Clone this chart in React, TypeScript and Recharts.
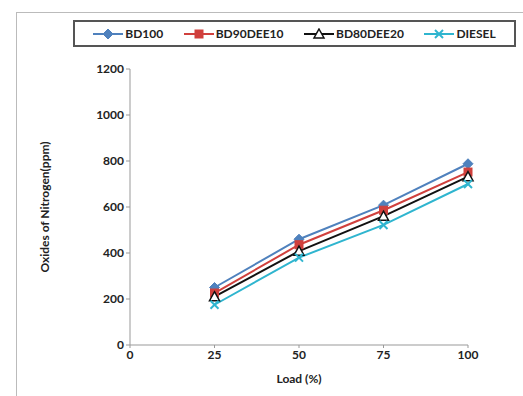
import React from 'react';
import { LineChart, Line, XAxis, YAxis } from 'recharts';

const loads = [25, 50, 75, 100];
const bd100 = [250, 460, 608, 788];
const bd90dee10 = [226, 436, 586, 752];
const bd80dee20 = [210, 408, 560, 732];
const diesel = [175, 380, 522, 700];

const xTicks = [0, 25, 50, 75, 100];
const yTicks = [0, 200, 400, 600, 800, 1000, 1200];

const series = [
  { key: 'bd100', name: 'BD100', color: '#4F81BD', marker: 'diamond', values: bd100 },
  { key: 'bd90', name: 'BD90DEE10', color: '#D0403D', marker: 'square', values: bd90dee10 },
  { key: 'bd80', name: 'BD80DEE20', color: '#111111', marker: 'triangle', values: bd80dee20 },
  { key: 'diesel', name: 'DIESEL', color: '#2FB5CF', marker: 'x', values: diesel },
];

const data = loads.map((load, i) => {
  const row: any = { load };
  series.forEach(s => { row[s.key] = s.values[i]; });
  return row;
});

const font = 'Lato, "Open Sans", sans-serif';
const textStyle = { fill: '#222', fontSize: 12, fontWeight: 700, fontFamily: font };

const Marker = ({ type, color, cx, cy }: any) => {
  if (cx == null || cy == null) return null;
  if (type === 'diamond') {
    return <polygon points={`${cx},${cy - 5} ${cx + 5},${cy} ${cx},${cy + 5} ${cx - 5},${cy}`} fill={color} stroke={color} />;
  }
  if (type === 'square') {
    return <rect x={cx - 4} y={cy - 4} width={8} height={8} fill={color} stroke={color} />;
  }
  if (type === 'triangle') {
    return <polygon points={`${cx},${cy - 5} ${cx + 5},${cy + 4} ${cx - 5},${cy + 4}`} fill="#fff" stroke={color} strokeWidth={1.5} />;
  }
  return (
    <g stroke={color} strokeWidth={2}>
      <line x1={cx - 4} y1={cy - 4} x2={cx + 4} y2={cy + 4} />
      <line x1={cx - 4} y1={cy + 4} x2={cx + 4} y2={cy - 4} />
    </g>
  );
};

const LegendBox = () => (
  <div style={{
    position: 'absolute', left: 73, top: 20, width: 443, height: 27,
    border: '2px solid #555', boxSizing: 'border-box', background: '#fff',
    display: 'flex', alignItems: 'center', justifyContent: 'space-around',
    fontFamily: font, fontWeight: 700, fontSize: 12, color: '#222', padding: '0 8px',
  }}>
    {series.map(s => (
      <div key={s.key} style={{ display: 'flex', alignItems: 'center' }}>
        <svg width={30} height={12}>
          <line x1={0} y1={6} x2={30} y2={6} stroke={s.color} strokeWidth={2} />
          <Marker type={s.marker} color={s.color} cx={15} cy={6} />
        </svg>
        <span style={{ marginLeft: 2 }}>{s.name}</span>
      </div>
    ))}
  </div>
);

export default function App() {
  return (
    <div style={{ position: 'absolute', left: 0, top: 0, width: 523, height: 396, background: '#fff', overflow: 'hidden' }}>
      <div style={{ position: 'absolute', left: 16, top: 12, width: 600, height: 500, border: '1px solid #bbb' }} />
      <LegendBox />
      <div style={{ position: 'absolute', left: 0, top: 0 }}>
        <LineChart width={523} height={396} data={data} margin={{ top: 69, right: 55, bottom: 21, left: 70 }}>
          <XAxis
            dataKey="load" type="number" domain={[0, 100]} ticks={xTicks}
            stroke="#999" tickSize={3} height={30}
            tick={textStyle}
            label={{ value: 'Load (%)', position: 'insideBottom', offset: -8, ...textStyle }}
          />
          <YAxis
            type="number" domain={[0, 1200]} ticks={yTicks} width={60}
            stroke="#999" tickSize={4}
            tick={textStyle}
            label={{ value: 'Oxides of Nitrogen(ppm)', angle: -90, position: 'center', dx: -55, ...textStyle }}
          />
          {series.map(s => (
            <Line
              key={s.key} dataKey={s.key} name={s.name} stroke={s.color} strokeWidth={2}
              isAnimationActive={false}
              dot={(p: any) => <Marker key={`${s.key}-${p.index}`} type={s.marker} color={s.color} cx={p.cx} cy={p.cy} />}
            />
          ))}
        </LineChart>
      </div>
    </div>
  );
}
